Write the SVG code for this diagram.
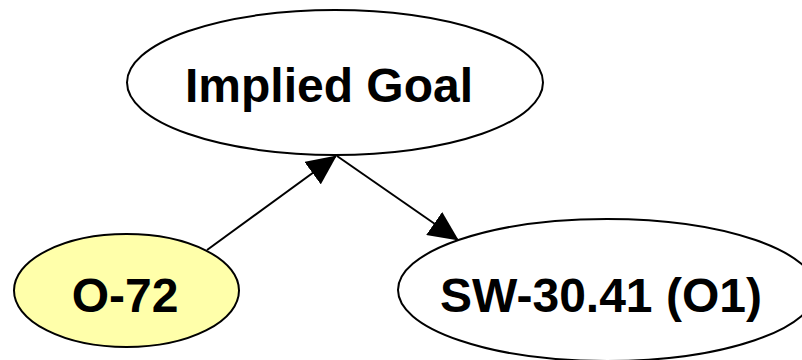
<svg xmlns="http://www.w3.org/2000/svg" width="802" height="360" viewBox="0 0 802 360">
  <style>
    .node ellipse { stroke: #000; stroke-width: 2; }
    .node text { font-family: "Liberation Sans", Arial, sans-serif; font-weight: bold; font-size: 48px; fill: #000; text-anchor: middle; }
    .edge { stroke: #000; stroke-width: 2; fill: none; marker-end: url(#arrow); }
  </style>
  <defs>
    <marker id="arrow" viewBox="0 0 30 28" refX="29" refY="14" markerWidth="30" markerHeight="28" markerUnits="userSpaceOnUse" orient="auto">
      <path d="M0,0 L30,14 L0,28 z" fill="#000"/>
    </marker>
  </defs>
  <rect width="802" height="360" fill="#fff"/>
  <g id="connectors">
    <line class="edge" x1="207" y1="250" x2="336" y2="156"/>
    <line class="edge" x1="337" y1="156" x2="458" y2="240"/>
  </g>
  <g id="node-implied-goal" class="node">
    <ellipse cx="335" cy="82.5" rx="208" ry="72.5" fill="#fff"/>
    <text x="329" y="102">Implied Goal</text>
  </g>
  <g id="node-o72" class="node">
    <ellipse cx="126.5" cy="290.5" rx="112.5" ry="56.5" fill="#ffffaa"/>
    <text x="125" y="312">O-72</text>
  </g>
  <g id="node-sw3041" class="node">
    <ellipse cx="607" cy="290" rx="209" ry="71" fill="#fff"/>
    <text x="601" y="312">SW-30.41 (O1)</text>
  </g>
</svg>
